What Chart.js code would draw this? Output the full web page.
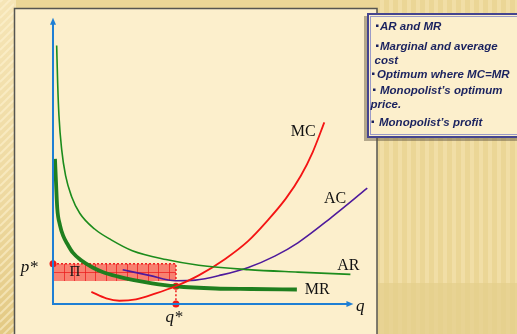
<!DOCTYPE html>
<html>
<head>
<meta charset="utf-8">
<style>
  html, body { margin: 0; padding: 0; overflow: hidden; background: #ecd899; }
  #wrap { width: 517px; height: 334px; position: relative; }
</style>
</head>
<body>
<div id="wrap">
  <canvas id="myChart"></canvas>
</div>

<script src="https://cdn.jsdelivr.net/npm/chart.js"></script>

<script>
// curve data (quantity q, price/cost p)
const qAR = [0.37, 0.47, 0.6, 0.87, 1.27, 1.87, 2.7, 4.2, 5.87, 8.0, 11.4, 14.7, 19.7, 24.7, 30.0];
const pAR = [26.2, 22.4, 19.1, 15.7, 13.0, 10.9, 9.2, 7.6, 6.5, 5.4, 4.5, 3.92, 3.48, 3.23, 3.0];

const qMR = [0.2, 0.3, 0.43, 0.7, 1.03, 1.5, 2.0, 2.87, 4.0, 5.0, 6.5, 8.03, 10, 12.37, 16.4, 20, 24.6];
const pMR = [14.7, 12.4, 9.7, 8.0, 6.9, 6.0, 5.2, 4.4, 3.7, 3.25, 2.8, 2.45, 2.1, 1.8, 1.57, 1.52, 1.47];

const qMC = [3.87, 5.37, 6.7, 8.37, 10.37, 12.37, 14.7, 17.37, 19.7, 21.5, 23.5, 25.0, 26.2, 27.37];
const pMC = [1.23, 0.57, 0.33, 0.47, 1.07, 1.8, 2.9, 4.57, 6.4, 8.3, 10.7, 13.0, 15.4, 18.4];

const qAC = [7.03, 9.7, 12.37, 14.37, 17.03, 19.7, 22.37, 24.7, 28.03, 31.7];
const pAC = [3.47, 2.9, 2.36, 2.42, 2.95, 3.7, 4.85, 6.2, 8.73, 11.73];

// optimum
const qStar = 12.4;
const pStar = 4.07;
const acStar = 2.33;
const mcStar = 1.8;

// axis extent
const qAxisEnd = 30;
const pAxisEnd = 28.7;

// text
const curveLabels = ['MC', 'AC', 'AR', 'MR'];
const curveLabelAt = [[25.25, 17.4], [28.45, 10.7], [29.8, 3.9], [26.65, 1.4]];
const legendLines = ['AR and MR', 'Marginal and average', 'cost', 'Optimum where MC=MR',
  'Monopolist\u2019s optimum', 'price.', 'Monopolist\u2019s profit'];

const toPts = (qs, ps) => qs.map((q, i) => ({ x: q, y: ps[i] }));

const curve = (data, color, width) => ({
  data: data,
  borderColor: color,
  borderWidth: width,
  pointRadius: 0,
  fill: false,
  showLine: true,
  cubicInterpolationMode: 'monotone',
  clip: false
});

const backdrop = {
  id: 'backdrop',
  beforeDraw(chart) {
    const c = chart.ctx;
    const W = chart.width, H = chart.height;
    c.save();
    // tan striped background
    c.fillStyle = '#ebd696';
    c.fillRect(0, 0, W, H);
    for (let x = 380; x < W; x += 9) {
      c.fillStyle = 'rgba(250,236,190,0.4)';
      c.fillRect(x, 0, 4, 283);
      c.fillStyle = 'rgba(250,236,190,0.15)';
      c.fillRect(x, 283, 4, H - 283);
    }
    c.fillStyle = 'rgba(200,170,90,0.12)';
    c.fillRect(378, 283, W - 378, H - 283);
    // left strip, diagonal stripes
    const g = c.createLinearGradient(0, 0, 0, H);
    g.addColorStop(0, '#f6e5b6');
    g.addColorStop(0.6, '#eed9a0');
    g.addColorStop(1, '#e3c983');
    c.fillStyle = g;
    c.fillRect(0, 0, 16, H);
    c.strokeStyle = 'rgba(255,245,215,0.5)';
    c.lineWidth = 2;
    c.beginPath();
    c.rect(0, 0, 14, H);
    c.clip();
    for (let y = -20; y < H + 20; y += 8) {
      c.beginPath();
      c.moveTo(0, y + 14);
      c.lineTo(14, y);
      c.stroke();
    }
    c.restore();
    // panel
    c.save();
    c.fillStyle = '#fcefcc';
    c.fillRect(14, 8, 363, H);
    c.strokeStyle = '#555550';
    c.lineWidth = 1.5;
    c.beginPath();
    c.moveTo(14.5, H);
    c.lineTo(14.5, 8.5);
    c.lineTo(377, 8.5);
    c.lineTo(377, H);
    c.stroke();
    c.restore();
  },
  beforeDatasetsDraw(chart) {
    // profit rectangle
    const c = chart.ctx;
    const xs = chart.scales.x, ys = chart.scales.y;
    const x0 = xs.getPixelForValue(0), x1 = xs.getPixelForValue(qStar);
    const y0 = ys.getPixelForValue(pStar), y1 = ys.getPixelForValue(acStar);
    c.save();
    c.fillStyle = 'rgba(245,60,55,0.62)';
    c.fillRect(x0, y0, x1 - x0, y1 - y0);
    c.strokeStyle = 'rgba(235,30,30,0.75)';
    c.lineWidth = 1;
    c.beginPath();
    for (let x = x0 + 10.5; x < x1 - 2; x += 10.5) {
      c.moveTo(Math.round(x) + 0.5, y0);
      c.lineTo(Math.round(x) + 0.5, y1);
    }
    const ym = Math.round((y0 + y1) / 2) + 0.5;
    c.moveTo(x0, ym);
    c.lineTo(x1, ym);
    c.stroke();
    c.strokeStyle = '#f02020';
    c.lineWidth = 1.5;
    c.setLineDash([2, 2]);
    c.beginPath();
    c.moveTo(x0, y0);
    c.lineTo(x1, y0);
    c.lineTo(x1, y1);
    c.stroke();
    c.restore();
  },
  afterDraw(chart) {
    const c = chart.ctx;
    const xs = chart.scales.x, ys = chart.scales.y;
    const X = v => xs.getPixelForValue(v), Y = v => ys.getPixelForValue(v);
    c.save();
    // arrowheads
    c.fillStyle = '#1f7fd4';
    c.beginPath();
    c.moveTo(X(0), Y(pAxisEnd) - 3);
    c.lineTo(X(0) - 3, Y(pAxisEnd) + 4);
    c.lineTo(X(0) + 3, Y(pAxisEnd) + 4);
    c.closePath();
    c.fill();
    c.beginPath();
    c.moveTo(X(qAxisEnd) + 3, Y(0));
    c.lineTo(X(qAxisEnd) - 4, Y(0) - 3);
    c.lineTo(X(qAxisEnd) - 4, Y(0) + 3);
    c.closePath();
    c.fill();

    // curve labels
    c.fillStyle = '#111';
    c.textAlign = 'center';
    c.textBaseline = 'middle';
    c.font = '16px "Liberation Serif", serif';
    curveLabels.forEach((t, i) => c.fillText(t, X(curveLabelAt[i][0]), Y(curveLabelAt[i][1])));
    c.font = '15px "Liberation Serif", serif';
    c.fillText('\u03A0', X(2.2), Y(3.2));
    c.font = 'italic 17px "Liberation Serif", serif';
    c.fillText('q', X(31), Y(-0.3));
    c.fillText('q*', X(qStar - 0.2), Y(-1.4));
    c.fillText('p*', X(-2.4), Y(pStar - 0.4));

    // legend box
    const bx = 367, by = 13, bw = 160, bh = 125;
    c.fillStyle = 'rgba(90,80,60,0.45)';
    c.fillRect(bx - 3, by + 3, bw, bh);
    c.fillStyle = '#fcefcc';
    c.fillRect(bx, by, bw, bh);
    c.strokeStyle = '#45458f';
    c.lineWidth = 2;
    c.strokeRect(bx + 1, by + 1, bw, bh - 2);
    c.strokeStyle = '#9a9ac8';
    c.lineWidth = 1;
    c.strokeRect(bx + 3.5, by + 3.5, bw, bh - 7);

    // [bullet x, text x, text y]
    const layout = [[376, 380, 27], [376, 380, 47], [null, 374.5, 61], [372, 377, 75],
      [373, 380, 91], [null, 370.5, 105], [371.5, 379, 123]];
    c.fillStyle = '#1a225f';
    c.textAlign = 'left';
    c.font = 'italic bold 11.5px "Liberation Sans", Arial, sans-serif';
    legendLines.forEach((t, i) => {
      const [bxp, tx, ty] = layout[i];
      if (bxp !== null) c.fillRect(bxp, ty - 2.5, 2.5, 2.5);
      c.fillText(t, tx, ty);
    });
    c.restore();
  }
};

const config = {
  type: 'scatter',
  data: {
    datasets: [
      { // axes
        data: [{ x: 0, y: pAxisEnd }, { x: 0, y: 0 }, { x: qAxisEnd, y: 0 }],
        showLine: true, borderColor: '#1f7fd4', borderWidth: 2, pointRadius: 0, clip: false
      },
      curve(toPts(qAR, pAR), '#1c8c1c', 1.6),
      curve(toPts(qMC, pMC), '#f41414', 1.8),
      curve(toPts(qAC, pAC), '#4e1a9c', 1.6),
      curve(toPts(qMR, pMR), '#1f7f1f', 3.8),
      { // q* dotted drop line
        data: [{ x: qStar, y: mcStar }, { x: qStar, y: 0 }],
        showLine: true, borderColor: '#f01e1e', borderWidth: 1.5, borderDash: [2, 2],
        pointRadius: 0, clip: false
      },
      { // marker dots
        data: [{ x: 0, y: pStar }, { x: qStar, y: mcStar }, { x: qStar, y: 0 }],
        showLine: false, pointRadius: 3.5, pointBackgroundColor: '#f01818',
        pointBorderWidth: 0, clip: false
      }
    ]
  },
  options: {
    animation: false,
    responsive: true,
    maintainAspectRatio: false,
    events: [],
    layout: { padding: { left: 53, right: 0, top: 0, bottom: 30 } },
    plugins: { legend: { display: false }, tooltip: { enabled: false } },
    scales: {
      x: { type: 'linear', min: 0, max: 46.4, display: false },
      y: { type: 'linear', min: 0, max: 30.4, display: false }
    }
  },
  plugins: [backdrop]
};

const ctx = document.getElementById('myChart');
const monoChart = new Chart(ctx, config);
</script>
</body>
</html>
